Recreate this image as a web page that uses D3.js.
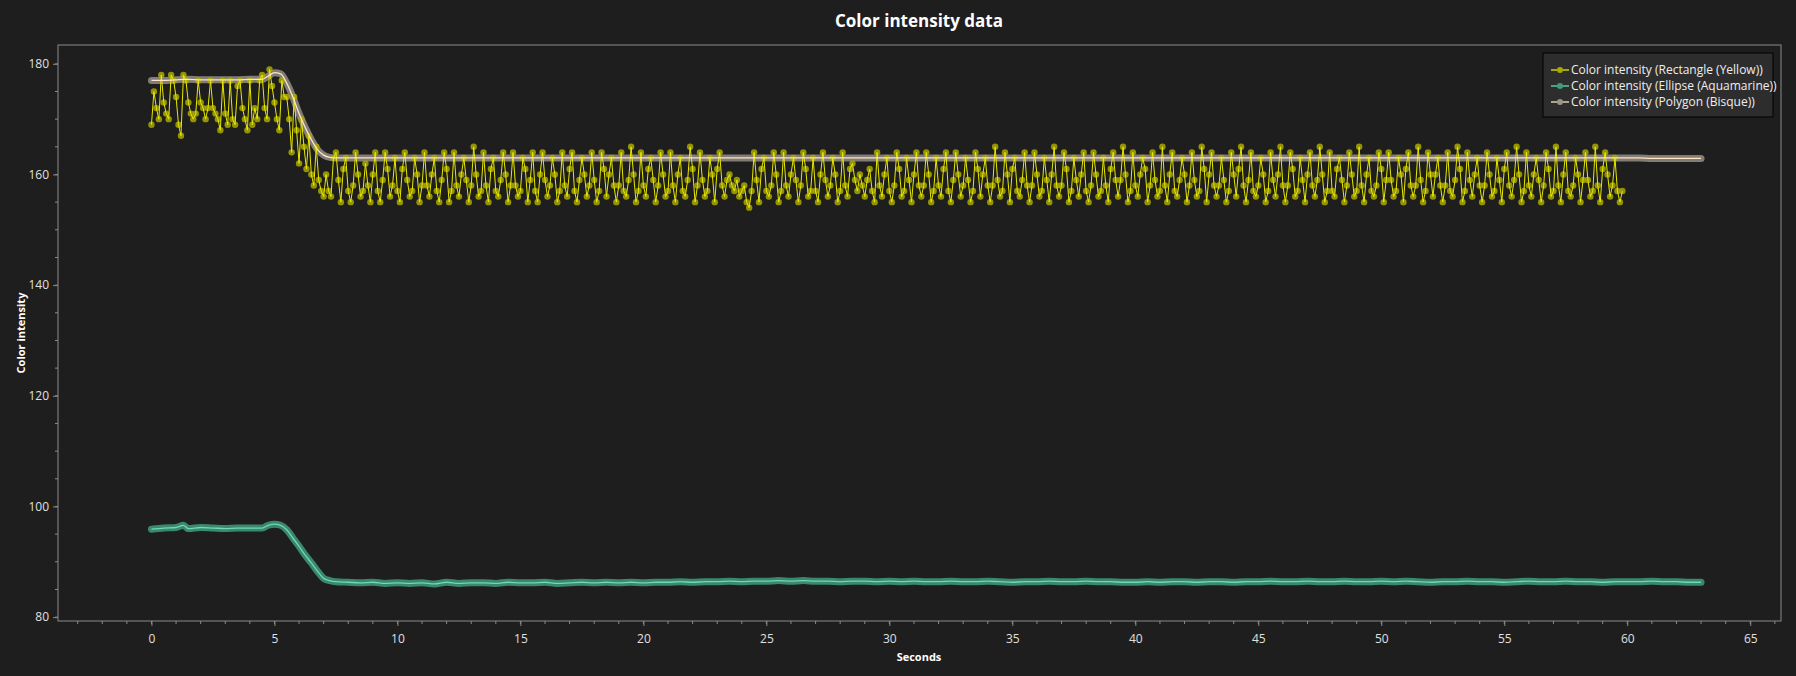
<!DOCTYPE html>
<html>
<head>
<meta charset="utf-8">
<script src="https://cdn.jsdelivr.net/npm/d3@7"></script>
<style>
  body { margin:0; background:#1e1e1e; }
  svg { font-family:"Open Sans","Noto Sans",sans-serif; }
</style>
</head>
<body>
<div id="plotarea"></div>
<script>
// yellow rectangle, one sample every 0.1 s
var sampleStep = 0.1;
var yellowValues = [
 169,175,172,170,178,173,171,170,178,177,174,169,167,178,177,173,171,170,171,177,
 173,172,170,172,177,172,171,170,168,177,171,169,177,170,169,176,177,172,170,168,
 177,169,172,170,177,178,172,170,179,176,173,170,168,177,174,174,170,164,174,168,
 162,170,165,161,167,160,158,165,159,157,156,160,157,156,163,
 164,159,155,161,163,157,155,158,164,160,156,157,162,158,155,160,164,157,155,159,
 164,161,156,158,163,157,155,161,164,159,156,157,163,160,155,158,164,158,156,160,
 163,157,155,159,164,161,155,157,164,158,156,160,163,159,155,158,165,160,156,157,
 164,158,155,161,163,157,156,159,164,160,155,158,164,158,156,157,163,161,155,159,
 164,157,155,160,164,159,156,158,163,160,155,157,164,158,156,161,164,157,155,159,
 163,160,156,158,164,159,155,157,164,161,156,160,163,158,155,158,164,157,156,159,
 165,160,155,157,164,158,156,161,163,159,155,158,164,160,156,157,164,158,155,160,
 163,157,156,159,165,161,155,158,164,159,156,157,163,160,155,161,164,158,156,159,
 160,158,157,159,156,157,158,155,154,157,
 164,159,155,161,163,157,156,158,164,160,155,157,164,158,156,160,163,159,155,158,
 164,161,156,157,163,157,155,160,164,159,156,158,163,160,155,157,164,158,156,161,
 162,159,157,160,158,156,159,161,157,155,
 164,158,156,160,163,157,155,158,164,161,156,157,163,159,155,160,164,158,156,158,
 164,160,155,157,163,158,156,161,164,157,155,159,164,160,156,158,163,159,155,157,
 164,161,156,160,163,158,155,158,165,159,156,157,164,160,155,161,163,157,156,159,
 164,158,155,158,164,160,156,157,163,159,155,160,165,158,156,158,164,161,155,157,
 163,159,156,160,164,157,155,158,164,160,156,157,163,158,155,161,164,159,156,159,
 165,160,155,157,164,158,156,160,163,161,155,158,164,159,156,157,165,158,155,160,
 164,157,156,159,163,160,155,158,164,159,156,157,165,161,155,160,164,158,156,158,
 163,159,155,157,164,160,156,161,165,158,155,159,164,157,156,158,163,160,155,157,
 164,159,156,160,165,158,155,158,164,161,156,157,163,159,155,160,164,158,156,159,
 165,160,155,157,164,157,156,161,163,159,155,158,164,160,156,157,165,158,155,160,
 163,157,156,158,164,161,155,159,164,159,156,157,163,160,155,161,164,158,156,158,
 165,159,155,157,164,160,156,160,163,158,155,158,164,157,156,159,165,161,155,157,
 164,159,156,160,163,158,155,158,164,160,156,157,163,159,155,161,164,158,156,159,
 165,160,155,157,164,158,156,160,163,159,155,158,164,161,156,157,165,158,155,160,
 164,157,156,158,163,160,155,159,164,159,156,157,165,158,155,161,164,160,156,158,
 163,157,155,157
];

// ellipse and polygon, sampled at these seconds
var smoothSeconds = [0,0.5,1,1.3,1.5,2,2.5,3,3.5,4,4.5,4.75,5,5.25,5.5,5.75,6,6.25,6.5,6.75,7,7.25,7.5,
 8,8.5,9,9.5,10,10.5,11,11.5,12,12.5,13,13.5,14,14.5,15,15.5,16,16.5,17,17.5,18,18.5,19,19.5,20,20.5,21,21.5,
 22,22.5,23,23.5,24,24.5,25,25.5,26,26.5,27,27.5,28,28.5,29,29.5,30,30.5,31,31.5,32,32.5,33,33.5,34,34.5,
 35,35.5,36,36.5,37,37.5,38,38.5,39,39.5,40,40.5,41,41.5,42,42.5,43,43.5,44,44.5,45,45.5,46,46.5,47,47.5,
 48,48.5,49,49.5,50,50.5,51,51.5,52,52.5,53,53.5,54,54.5,55,55.5,56,56.5,57,57.5,58,58.5,59,59.5,60,60.5,
 61,61.5,62,62.5,63];
var aquaValues = [95.9,96.1,96.2,96.6,96.0,96.2,96.1,96.0,96.1,96.1,96.1,96.6,96.8,96.6,95.8,94.3,92.8,91.2,89.8,88.3,87.0,86.6,86.4,
 86.3,86.2,86.3,86.1,86.2,86.1,86.2,86.0,86.3,86.1,86.2,86.2,86.1,86.3,86.2,86.2,86.3,86.1,86.2,86.3,86.2,86.3,86.2,86.3,86.2,86.3,86.3,86.4,
 86.3,86.4,86.4,86.5,86.4,86.5,86.5,86.6,86.5,86.6,86.5,86.5,86.4,86.5,86.5,86.4,86.5,86.4,86.5,86.4,86.4,86.5,86.4,86.4,86.5,86.4,
 86.3,86.4,86.4,86.5,86.4,86.4,86.5,86.4,86.4,86.3,86.3,86.4,86.3,86.4,86.4,86.3,86.4,86.4,86.3,86.4,86.4,86.5,86.4,86.4,86.5,86.4,
 86.4,86.5,86.4,86.4,86.5,86.4,86.5,86.4,86.3,86.4,86.4,86.5,86.4,86.4,86.3,86.4,86.5,86.4,86.4,86.5,86.4,86.4,86.3,86.4,86.4,86.4,
 86.5,86.4,86.4,86.3,86.3];
var bisqueValues = [177.0,177.0,177.1,177.2,177.2,177.1,177.1,177.1,177.1,177.2,177.2,177.8,178.4,178.2,176.5,174.0,171.0,168.5,166.3,164.5,163.5,163.1,163.0,
 163.0,163.0,163.0,163.0,163.0,163.0,163.0,163.0,163.0,163.0,163.0,163.0,163.0,163.0,163.0,163.0,163.0,163.0,163.0,163.0,163.0,163.0,163.0,163.0,163.0,163.0,163.0,163.0,
 163.0,163.0,163.0,163.0,163.0,163.0,163.0,163.0,163.0,163.0,163.0,163.0,163.0,163.0,163.0,163.0,163.0,163.0,163.0,163.0,163.0,163.0,163.0,163.0,163.0,163.0,
 163.0,163.0,163.0,163.0,163.0,163.0,163.0,163.0,163.0,163.0,163.0,163.0,163.0,163.0,163.0,163.0,163.0,163.0,163.0,163.0,163.0,163.0,163.0,163.0,163.0,163.0,
 163.0,163.0,163.0,163.0,163.0,163.0,163.0,163.0,163.0,163.0,163.0,163.0,163.0,163.0,163.0,163.0,163.0,163.0,163.0,163.0,163.0,163.0,163.0,163.0,163.0,163.0,
 162.9,162.9,162.9,162.9,162.9];

var xTicks = [0,5,10,15,20,25,30,35,40,45,50,55,60,65];
var yTicks = [80,100,120,140,160,180];
var seriesNames = ["Color intensity (Rectangle (Yellow))","Color intensity (Ellipse (Aquamarine))","Color intensity (Polygon (Bisque))"];
var seriesColors = ["#e8e800","#6fd8b4","#ffe4c4"];

var W = 1796, H = 676;
var pLeft = 58, pRight = 1781, pTop = 45, pBottom = 621;

var svg = d3.select("#plotarea").append("svg").attr("width", W).attr("height", H);
svg.append("rect").attr("width", W).attr("height", H).attr("fill", "#1e1e1e");

var x = d3.scaleLinear().domain([-3.8, 66.25]).range([pLeft, pRight]);
var y = d3.scaleLinear().domain([79.3, 183.4]).range([pBottom, pTop]);

// frame
svg.append("rect").attr("x", pLeft).attr("y", pTop).attr("width", pRight-pLeft).attr("height", pBottom-pTop)
  .attr("fill", "none").attr("stroke", "#8a8a8a");

// minor ticks
svg.append("g").selectAll("line").data(d3.range(-3, 67)).enter().append("line")
  .attr("x1", d => x(d)).attr("x2", d => x(d)).attr("y1", pBottom).attr("y2", pBottom+3).attr("stroke", "#8a8a8a");
svg.append("g").selectAll("line").data(d3.range(80, 184, 5)).enter().append("line")
  .attr("y1", d => y(d)).attr("y2", d => y(d)).attr("x1", pLeft).attr("x2", pLeft-3).attr("stroke", "#8a8a8a");

var xAxis = svg.append("g").attr("transform", "translate(0," + pBottom + ")")
  .call(d3.axisBottom(x).tickValues(xTicks).tickSize(5).tickPadding(8));
var yAxis = svg.append("g").attr("transform", "translate(" + pLeft + ",0)")
  .call(d3.axisLeft(y).tickValues(yTicks).tickSize(5).tickPadding(4));
[xAxis, yAxis].forEach(function(a){
  a.select(".domain").remove();
  a.selectAll("line").attr("stroke", "#8a8a8a");
  a.selectAll("text").attr("fill", "#e0e0e0").style("font-size", "12px").style("font-family", "Open Sans");
});

svg.append("text").attr("x", 919).attr("y", 27).attr("text-anchor", "middle")
  .attr("fill", "#fff").style("font-size", "17px").style("font-weight", "bold").text("Color intensity data");
svg.append("text").attr("x", 919).attr("y", 661).attr("text-anchor", "middle")
  .attr("fill", "#fff").style("font-size", "11px").style("font-weight", "bold").text("Seconds");
svg.append("text").attr("transform", "translate(25,333)rotate(-90)").attr("text-anchor", "middle")
  .attr("fill", "#fff").style("font-size", "11px").style("font-weight", "bold").text("Color intensity");

svg.append("defs").append("clipPath").attr("id", "c")
  .append("rect").attr("x", pLeft).attr("y", pTop).attr("width", pRight-pLeft).attr("height", pBottom-pTop);
var plot = svg.append("g").attr("clip-path", "url(#c)");

var line = d3.line().x(d => x(d[0])).y(d => y(d[1]));

var yellowData = yellowValues.map((v, i) => [i*sampleStep, v]);
var aquaData = smoothSeconds.map((t, i) => [t, aquaValues[i]]);
var bisqueData = smoothSeconds.map((t, i) => [t, bisqueValues[i]]);

// ellipse: glowing thick line
plot.append("path").datum(aquaData).attr("d", line.curve(d3.curveMonotoneX)).attr("fill", "none")
  .attr("stroke", "#3f9b7c").attr("stroke-width", 7).attr("stroke-linecap", "round").attr("opacity", 0.85);
plot.append("path").datum(aquaData).attr("d", line).attr("fill", "none")
  .attr("stroke", seriesColors[1]).attr("stroke-width", 1.3);

// polygon halo under yellow
plot.append("path").datum(bisqueData).attr("d", line).attr("fill", "none")
  .attr("stroke", "#9a948c").attr("stroke-width", 7).attr("stroke-linecap", "round").attr("opacity", 0.8);

// rectangle
line.curve(d3.curveLinear);
plot.selectAll(".ym").data(yellowData).enter().append("circle").attr("class", "ym")
  .attr("cx", d => x(d[0])).attr("cy", d => y(d[1])).attr("r", 3.2)
  .attr("fill", "#a8a800").attr("opacity", 0.85);
plot.append("path").datum(yellowData).attr("d", line).attr("fill", "none")
  .attr("stroke", seriesColors[0]).attr("stroke-width", 1);

plot.append("path").datum(bisqueData).attr("d", line.curve(d3.curveMonotoneX)).attr("fill", "none")
  .attr("stroke", seriesColors[2]).attr("stroke-width", 1.3);

// legend
var lg = svg.append("g").attr("transform", "translate(1543,53)");
lg.append("rect").attr("width", 230).attr("height", 64).attr("fill", "#2d2d2d").attr("stroke", "#000");
var markerFill = ["#a8a800", "#3f9b7c", "#9a948c"];
seriesNames.forEach(function(n, i){
  var yy = 17 + i*16;
  lg.append("line").attr("x1", 8).attr("x2", 26).attr("y1", yy).attr("y2", yy).attr("stroke", seriesColors[i]).attr("stroke-width", 1.3);
  lg.append("circle").attr("cx", 17).attr("cy", yy).attr("r", 3).attr("fill", markerFill[i]);
  lg.append("text").attr("x", 28).attr("y", yy + 4).attr("fill", "#eee").style("font-size", "12px").text(n);
});
</script>
</body>
</html>
